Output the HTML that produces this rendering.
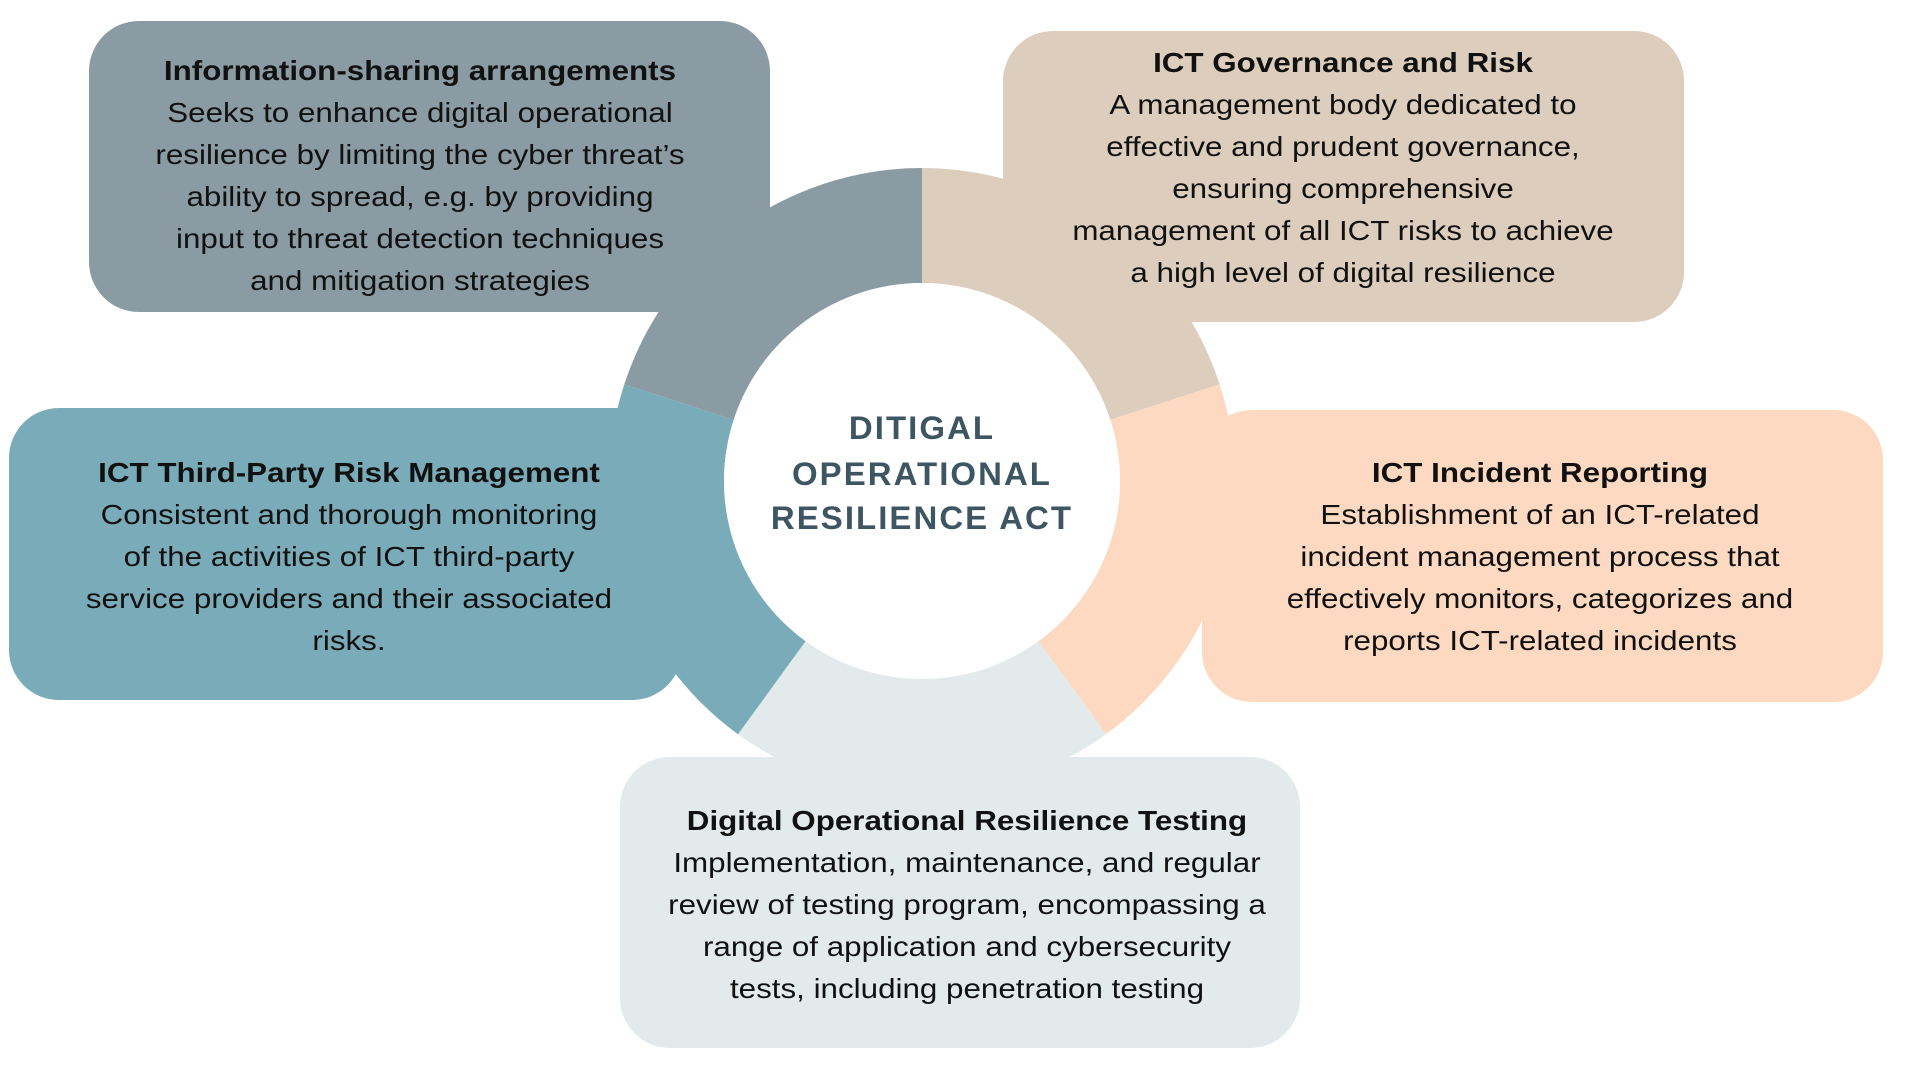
<!DOCTYPE html>
<html><head><meta charset="utf-8"><style>
html,body{margin:0;padding:0;background:#fff;width:1920px;height:1080px;overflow:hidden}
svg text{font-family:"Liberation Sans",sans-serif;fill:#111}
.t{font-weight:bold;font-size:28px}
.b{font-size:28px}
.c{font-weight:bold;font-size:32px;fill:#3e5661;letter-spacing:2px}
</style></head><body>
<svg width="1920" height="1080" viewBox="0 0 1920 1080">
<g id="ring"></g>
<rect x="89" y="21" width="681" height="291" rx="50" fill="#8a9ba3"/>
<rect x="1003" y="31" width="681" height="291" rx="50" fill="#ddcdbd"/>
<rect x="9" y="408" width="673" height="292" rx="50" fill="#7aabb8"/>
<rect x="1202" y="410" width="681" height="292" rx="50" fill="#fdd9c1"/>
<rect x="620" y="757" width="680" height="291" rx="50" fill="#e2eaec"/>
<circle cx="922" cy="481" r="198" fill="#fff"/>
<g text-anchor="middle" transform="translate(922,0) scale(1.03,1) translate(-922,0)">
<text class="c" x="922" y="439">DITIGAL</text>
<text class="c" x="922" y="485">OPERATIONAL</text>
<text class="c" x="922" y="529">RESILIENCE ACT</text>
</g>
<g text-anchor="middle" transform="translate(420,0) scale(1.12,1) translate(-420,0)">
<text class="t" x="420" y="80">Information-sharing arrangements</text>
<text class="b" x="420" y="122">Seeks to enhance digital operational</text>
<text class="b" x="420" y="164">resilience by limiting the cyber threat’s</text>
<text class="b" x="420" y="206">ability to spread, e.g. by providing</text>
<text class="b" x="420" y="248">input to threat detection techniques</text>
<text class="b" x="420" y="290">and mitigation strategies</text>
</g>
<g text-anchor="middle" transform="translate(1343,0) scale(1.12,1) translate(-1343,0)">
<text class="t" x="1343" y="72">ICT Governance and Risk</text>
<text class="b" x="1343" y="114">A management body dedicated to</text>
<text class="b" x="1343" y="156">effective and prudent governance,</text>
<text class="b" x="1343" y="198">ensuring comprehensive</text>
<text class="b" x="1343" y="240">management of all ICT risks to achieve</text>
<text class="b" x="1343" y="282">a high level of digital resilience</text>
</g>
<g text-anchor="middle" transform="translate(349,0) scale(1.12,1) translate(-349,0)">
<text class="t" x="349" y="482">ICT Third-Party Risk Management</text>
<text class="b" x="349" y="524">Consistent and thorough monitoring</text>
<text class="b" x="349" y="566">of the activities of ICT third-party</text>
<text class="b" x="349" y="608">service providers and their associated</text>
<text class="b" x="349" y="650">risks.</text>
</g>
<g text-anchor="middle" transform="translate(1540,0) scale(1.12,1) translate(-1540,0)">
<text class="t" x="1540" y="482">ICT Incident Reporting</text>
<text class="b" x="1540" y="524">Establishment of an ICT-related</text>
<text class="b" x="1540" y="566">incident management process that</text>
<text class="b" x="1540" y="608">effectively monitors, categorizes and</text>
<text class="b" x="1540" y="650">reports ICT-related incidents</text>
</g>
<g text-anchor="middle" transform="translate(967,0) scale(1.12,1) translate(-967,0)">
<text class="t" x="967" y="830">Digital Operational Resilience Testing</text>
<text class="b" x="967" y="872">Implementation, maintenance, and regular</text>
<text class="b" x="967" y="914">review of testing program, encompassing a</text>
<text class="b" x="967" y="956">range of application and cybersecurity</text>
<text class="b" x="967" y="998">tests, including penetration testing</text>
</g>
</svg>
<script>
const segStart=[-162,-90,-18,54,126];
const segColors=["#8a9ba3","#ddcdbd","#fdd9c1","#e2eaec","#7aabb8"];
const segNames=["info-sharing","governance","incident","testing","third-party"];
const cx=922,cy=481,R=313,ri=198;
const g=document.getElementById('ring');
function pt(a,r){const t=a*Math.PI/180;return [cx+r*Math.cos(t),cy+r*Math.sin(t)];}
segStart.forEach((s,i)=>{
  const e=s+72;
  const [x1,y1]=pt(s,R),[x2,y2]=pt(e,R),[x3,y3]=pt(e,ri),[x4,y4]=pt(s,ri);
  const p=document.createElementNS('http://www.w3.org/2000/svg','path');
  p.setAttribute('d',`M${x1} ${y1}A${R} ${R} 0 0 1 ${x2} ${y2}L${x3} ${y3}A${ri} ${ri} 0 0 0 ${x4} ${y4}Z`);
  p.setAttribute('fill',segColors[i]);
  
  
  g.appendChild(p);
});
</script>
</body></html>
